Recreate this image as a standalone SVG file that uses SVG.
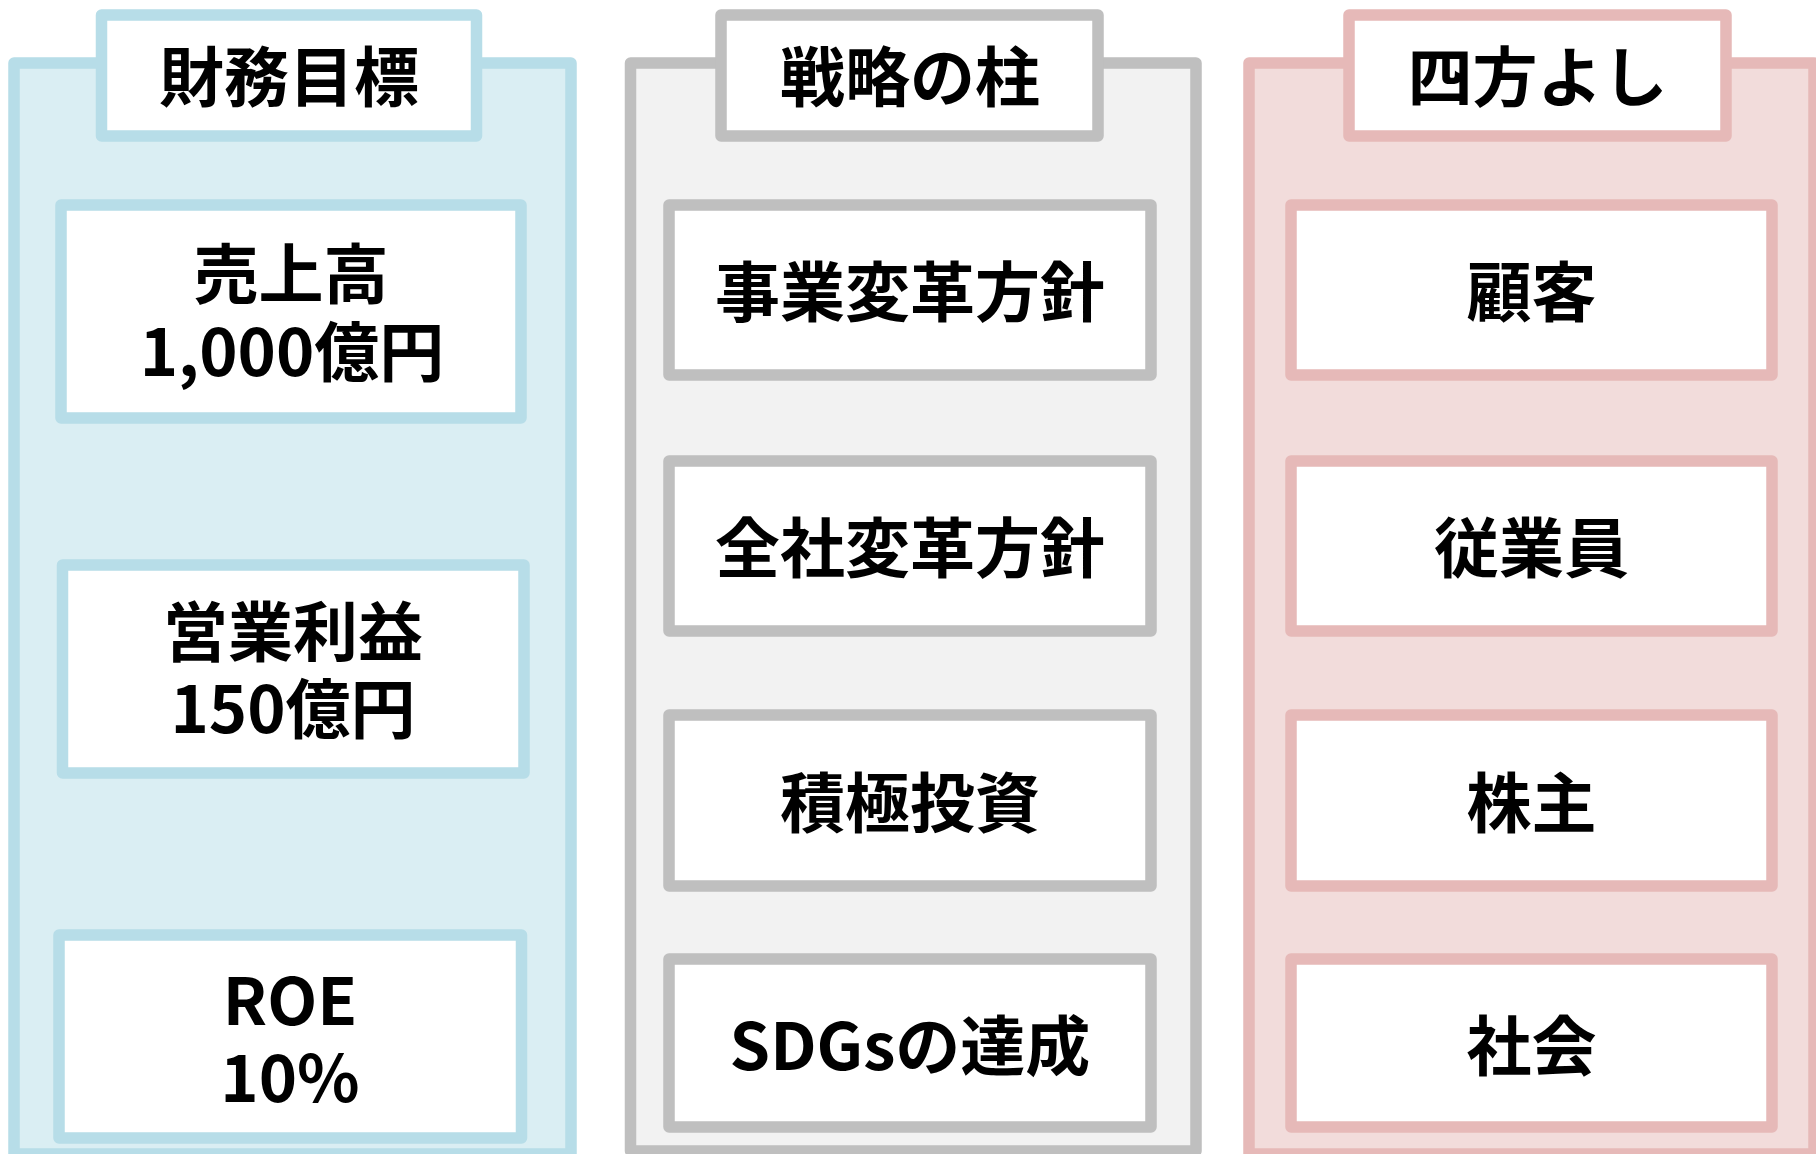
<svg xmlns="http://www.w3.org/2000/svg" width="1816" height="1154" viewBox="0 0 1816 1154">
<style>
  rect { stroke-width: 11.5; stroke-linejoin: round; }
  .blue { stroke: #B7DDE8; }
  .gray { stroke: #BFBFBF; }
  .pink { stroke: #E6B9B8; }
  .colblue { fill: #DAEEF3; stroke: #B7DDE8; }
  .colgray { fill: #F2F2F2; stroke: #BFBFBF; }
  .colpink { fill: #F2DCDB; stroke: #E6B9B8; }
  .box { fill: #FFFFFF; }
  text { font-family: "Noto Sans CJK JP", "Noto Sans", sans-serif; font-weight: 700; font-size: 65px; fill: #000000; text-anchor: middle; }
</style>
<rect width="1816" height="1154" fill="#FFFFFF" stroke="none"/>

<!-- Column 1: 財務目標 -->
<g id="col-financial">
  <rect class="colblue" x="14" y="63" width="557" height="1091"/>
</g>
<g id="tab-financial">
  <rect class="box blue" x="101.5" y="15" width="375" height="121"/>
  <text x="289" y="100.5">財務目標</text>
</g>
<g id="node-sales">
  <rect class="box blue" x="61" y="205" width="460" height="213"/>
  <text x="291" y="298">売上高<tspan x="292" dy="77.5">1,000億円</tspan></text>
</g>
<g id="node-op-profit">
  <rect class="box blue" x="62.5" y="565" width="461.5" height="208"/>
  <text x="293" y="656">営業利益<tspan x="293" dy="77">150億円</tspan></text>
</g>
<g id="node-roe">
  <rect class="box blue" x="59" y="935" width="462.5" height="203"/>
  <text x="290" y="1025">ROE<tspan x="290" dy="77">10%</tspan></text>
</g>

<!-- Column 2: 戦略の柱 -->
<g id="col-strategy">
  <rect class="colgray" x="630.5" y="63" width="565.5" height="1088"/>
</g>
<g id="tab-strategy">
  <rect class="box gray" x="721" y="15" width="377" height="121"/>
  <text x="910" y="100.5">戦略の柱</text>
</g>
<g id="node-business-reform">
  <rect class="box gray" x="669" y="205" width="482" height="170"/>
  <text x="910" y="315.5">事業変革方針</text>
</g>
<g id="node-company-reform">
  <rect class="box gray" x="669" y="461" width="482" height="170"/>
  <text x="910" y="571.5">全社変革方針</text>
</g>
<g id="node-investment">
  <rect class="box gray" x="669" y="715" width="482" height="171"/>
  <text x="910" y="826.5">積極投資</text>
</g>
<g id="node-sdgs">
  <rect class="box gray" x="669" y="959" width="482" height="168"/>
  <text x="910" y="1069.5">SDGsの達成</text>
</g>

<!-- Column 3: 四方よし -->
<g id="col-stakeholders">
  <rect class="colpink" x="1249" y="63" width="565" height="1091"/>
</g>
<g id="tab-stakeholders">
  <rect class="box pink" x="1349" y="15" width="377" height="121"/>
  <text x="1537.5" y="100.5">四方よし</text>
</g>
<g id="node-customer">
  <rect class="box pink" x="1291" y="205" width="481" height="170"/>
  <text x="1531.5" y="315.5">顧客</text>
</g>
<g id="node-employee">
  <rect class="box pink" x="1291" y="461" width="481" height="170"/>
  <text x="1531.5" y="571.5">従業員</text>
</g>
<g id="node-shareholder">
  <rect class="box pink" x="1291" y="715" width="481" height="171"/>
  <text x="1531.5" y="826.5">株主</text>
</g>
<g id="node-society">
  <rect class="box pink" x="1291" y="959" width="481" height="168"/>
  <text x="1531.5" y="1069.5">社会</text>
</g>

<g id="connectors"/>
</svg>
